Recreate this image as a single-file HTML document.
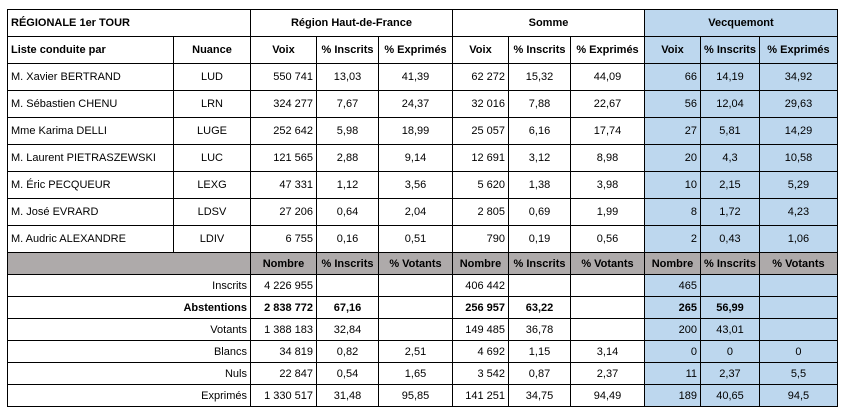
<!DOCTYPE html>
<html><head><meta charset="utf-8"><style>
body{margin:0;width:845px;height:414px;background:#fff;position:relative;overflow:hidden;font-family:"Liberation Sans",sans-serif;font-size:11px;color:#000}
table{position:absolute;left:7px;top:9px;border-collapse:collapse;table-layout:fixed}
td{border:1px solid #000;padding:0 3px;white-space:nowrap;overflow:hidden}
tr.t td{height:26px}
tr.b td{height:21px}
.c{text-align:center}.r{text-align:right}.bo{font-weight:bold}
.v{background:#bdd7ee}
.g{background:#aeaaaa;font-weight:bold;text-align:center}
</style></head><body>
<table>
<colgroup><col style="width:166px"><col style="width:77px"><col style="width:66px"><col style="width:62px"><col style="width:74px"><col style="width:56px"><col style="width:62px"><col style="width:74px"><col style="width:56px"><col style="width:57px"><col style="width:78px"></colgroup>
<tr class="t"><td colspan="2" class="bo">RÉGIONALE 1er TOUR</td><td colspan="3" class="c bo">Région Haut-de-France</td><td colspan="3" class="c bo">Somme</td><td colspan="3" class="c bo v">Vecquemont</td></tr>
<tr class="t"><td class="bo">Liste conduite par</td><td class="c bo">Nuance</td><td class="c bo">Voix</td><td class="c bo">% Inscrits</td><td class="c bo">% Exprimés</td><td class="c bo">Voix</td><td class="c bo">% Inscrits</td><td class="c bo">% Exprimés</td><td class="c bo v">Voix</td><td class="c bo v">% Inscrits</td><td class="c bo v">% Exprimés</td></tr>
<tr class="t"><td>M. Xavier BERTRAND</td><td class="c">LUD</td><td class="r">550 741</td><td class="c">13,03</td><td class="c">41,39</td><td class="r">62 272</td><td class="c">15,32</td><td class="c">44,09</td><td class="r v">66</td><td class="c v">14,19</td><td class="c v">34,92</td></tr>
<tr class="t"><td>M. Sébastien CHENU</td><td class="c">LRN</td><td class="r">324 277</td><td class="c">7,67</td><td class="c">24,37</td><td class="r">32 016</td><td class="c">7,88</td><td class="c">22,67</td><td class="r v">56</td><td class="c v">12,04</td><td class="c v">29,63</td></tr>
<tr class="t"><td>Mme Karima DELLI</td><td class="c">LUGE</td><td class="r">252 642</td><td class="c">5,98</td><td class="c">18,99</td><td class="r">25 057</td><td class="c">6,16</td><td class="c">17,74</td><td class="r v">27</td><td class="c v">5,81</td><td class="c v">14,29</td></tr>
<tr class="t"><td>M. Laurent PIETRASZEWSKI</td><td class="c">LUC</td><td class="r">121 565</td><td class="c">2,88</td><td class="c">9,14</td><td class="r">12 691</td><td class="c">3,12</td><td class="c">8,98</td><td class="r v">20</td><td class="c v">4,3</td><td class="c v">10,58</td></tr>
<tr class="t"><td>M. Éric PECQUEUR</td><td class="c">LEXG</td><td class="r">47 331</td><td class="c">1,12</td><td class="c">3,56</td><td class="r">5 620</td><td class="c">1,38</td><td class="c">3,98</td><td class="r v">10</td><td class="c v">2,15</td><td class="c v">5,29</td></tr>
<tr class="t"><td>M. José EVRARD</td><td class="c">LDSV</td><td class="r">27 206</td><td class="c">0,64</td><td class="c">2,04</td><td class="r">2 805</td><td class="c">0,69</td><td class="c">1,99</td><td class="r v">8</td><td class="c v">1,72</td><td class="c v">4,23</td></tr>
<tr class="t"><td>M. Audric ALEXANDRE</td><td class="c">LDIV</td><td class="r">6 755</td><td class="c">0,16</td><td class="c">0,51</td><td class="r">790</td><td class="c">0,19</td><td class="c">0,56</td><td class="r v">2</td><td class="c v">0,43</td><td class="c v">1,06</td></tr>
<tr class="b"><td colspan="2" class="g"></td><td class="g">Nombre</td><td class="g">% Inscrits</td><td class="g">% Votants</td><td class="g">Nombre</td><td class="g">% Inscrits</td><td class="g">% Votants</td><td class="g">Nombre</td><td class="g">% Inscrits</td><td class="g">% Votants</td></tr>
<tr class="b"><td colspan="2" class="r">Inscrits</td><td class="r">4 226 955</td><td></td><td></td><td class="r">406 442</td><td></td><td></td><td class="r v">465</td><td class="v"></td><td class="v"></td></tr>
<tr class="b bo"><td colspan="2" class="r">Abstentions</td><td class="r">2 838 772</td><td class="c">67,16</td><td></td><td class="r">256 957</td><td class="c">63,22</td><td></td><td class="r v">265</td><td class="c v">56,99</td><td class="v"></td></tr>
<tr class="b"><td colspan="2" class="r">Votants</td><td class="r">1 388 183</td><td class="c">32,84</td><td></td><td class="r">149 485</td><td class="c">36,78</td><td></td><td class="r v">200</td><td class="c v">43,01</td><td class="v"></td></tr>
<tr class="b"><td colspan="2" class="r">Blancs</td><td class="r">34 819</td><td class="c">0,82</td><td class="c">2,51</td><td class="r">4 692</td><td class="c">1,15</td><td class="c">3,14</td><td class="r v">0</td><td class="c v">0</td><td class="c v">0</td></tr>
<tr class="b"><td colspan="2" class="r">Nuls</td><td class="r">22 847</td><td class="c">0,54</td><td class="c">1,65</td><td class="r">3 542</td><td class="c">0,87</td><td class="c">2,37</td><td class="r v">11</td><td class="c v">2,37</td><td class="c v">5,5</td></tr>
<tr class="b"><td colspan="2" class="r">Exprimés</td><td class="r">1 330 517</td><td class="c">31,48</td><td class="c">95,85</td><td class="r">141 251</td><td class="c">34,75</td><td class="c">94,49</td><td class="r v">189</td><td class="c v">40,65</td><td class="c v">94,5</td></tr>
</table>
</body></html>
